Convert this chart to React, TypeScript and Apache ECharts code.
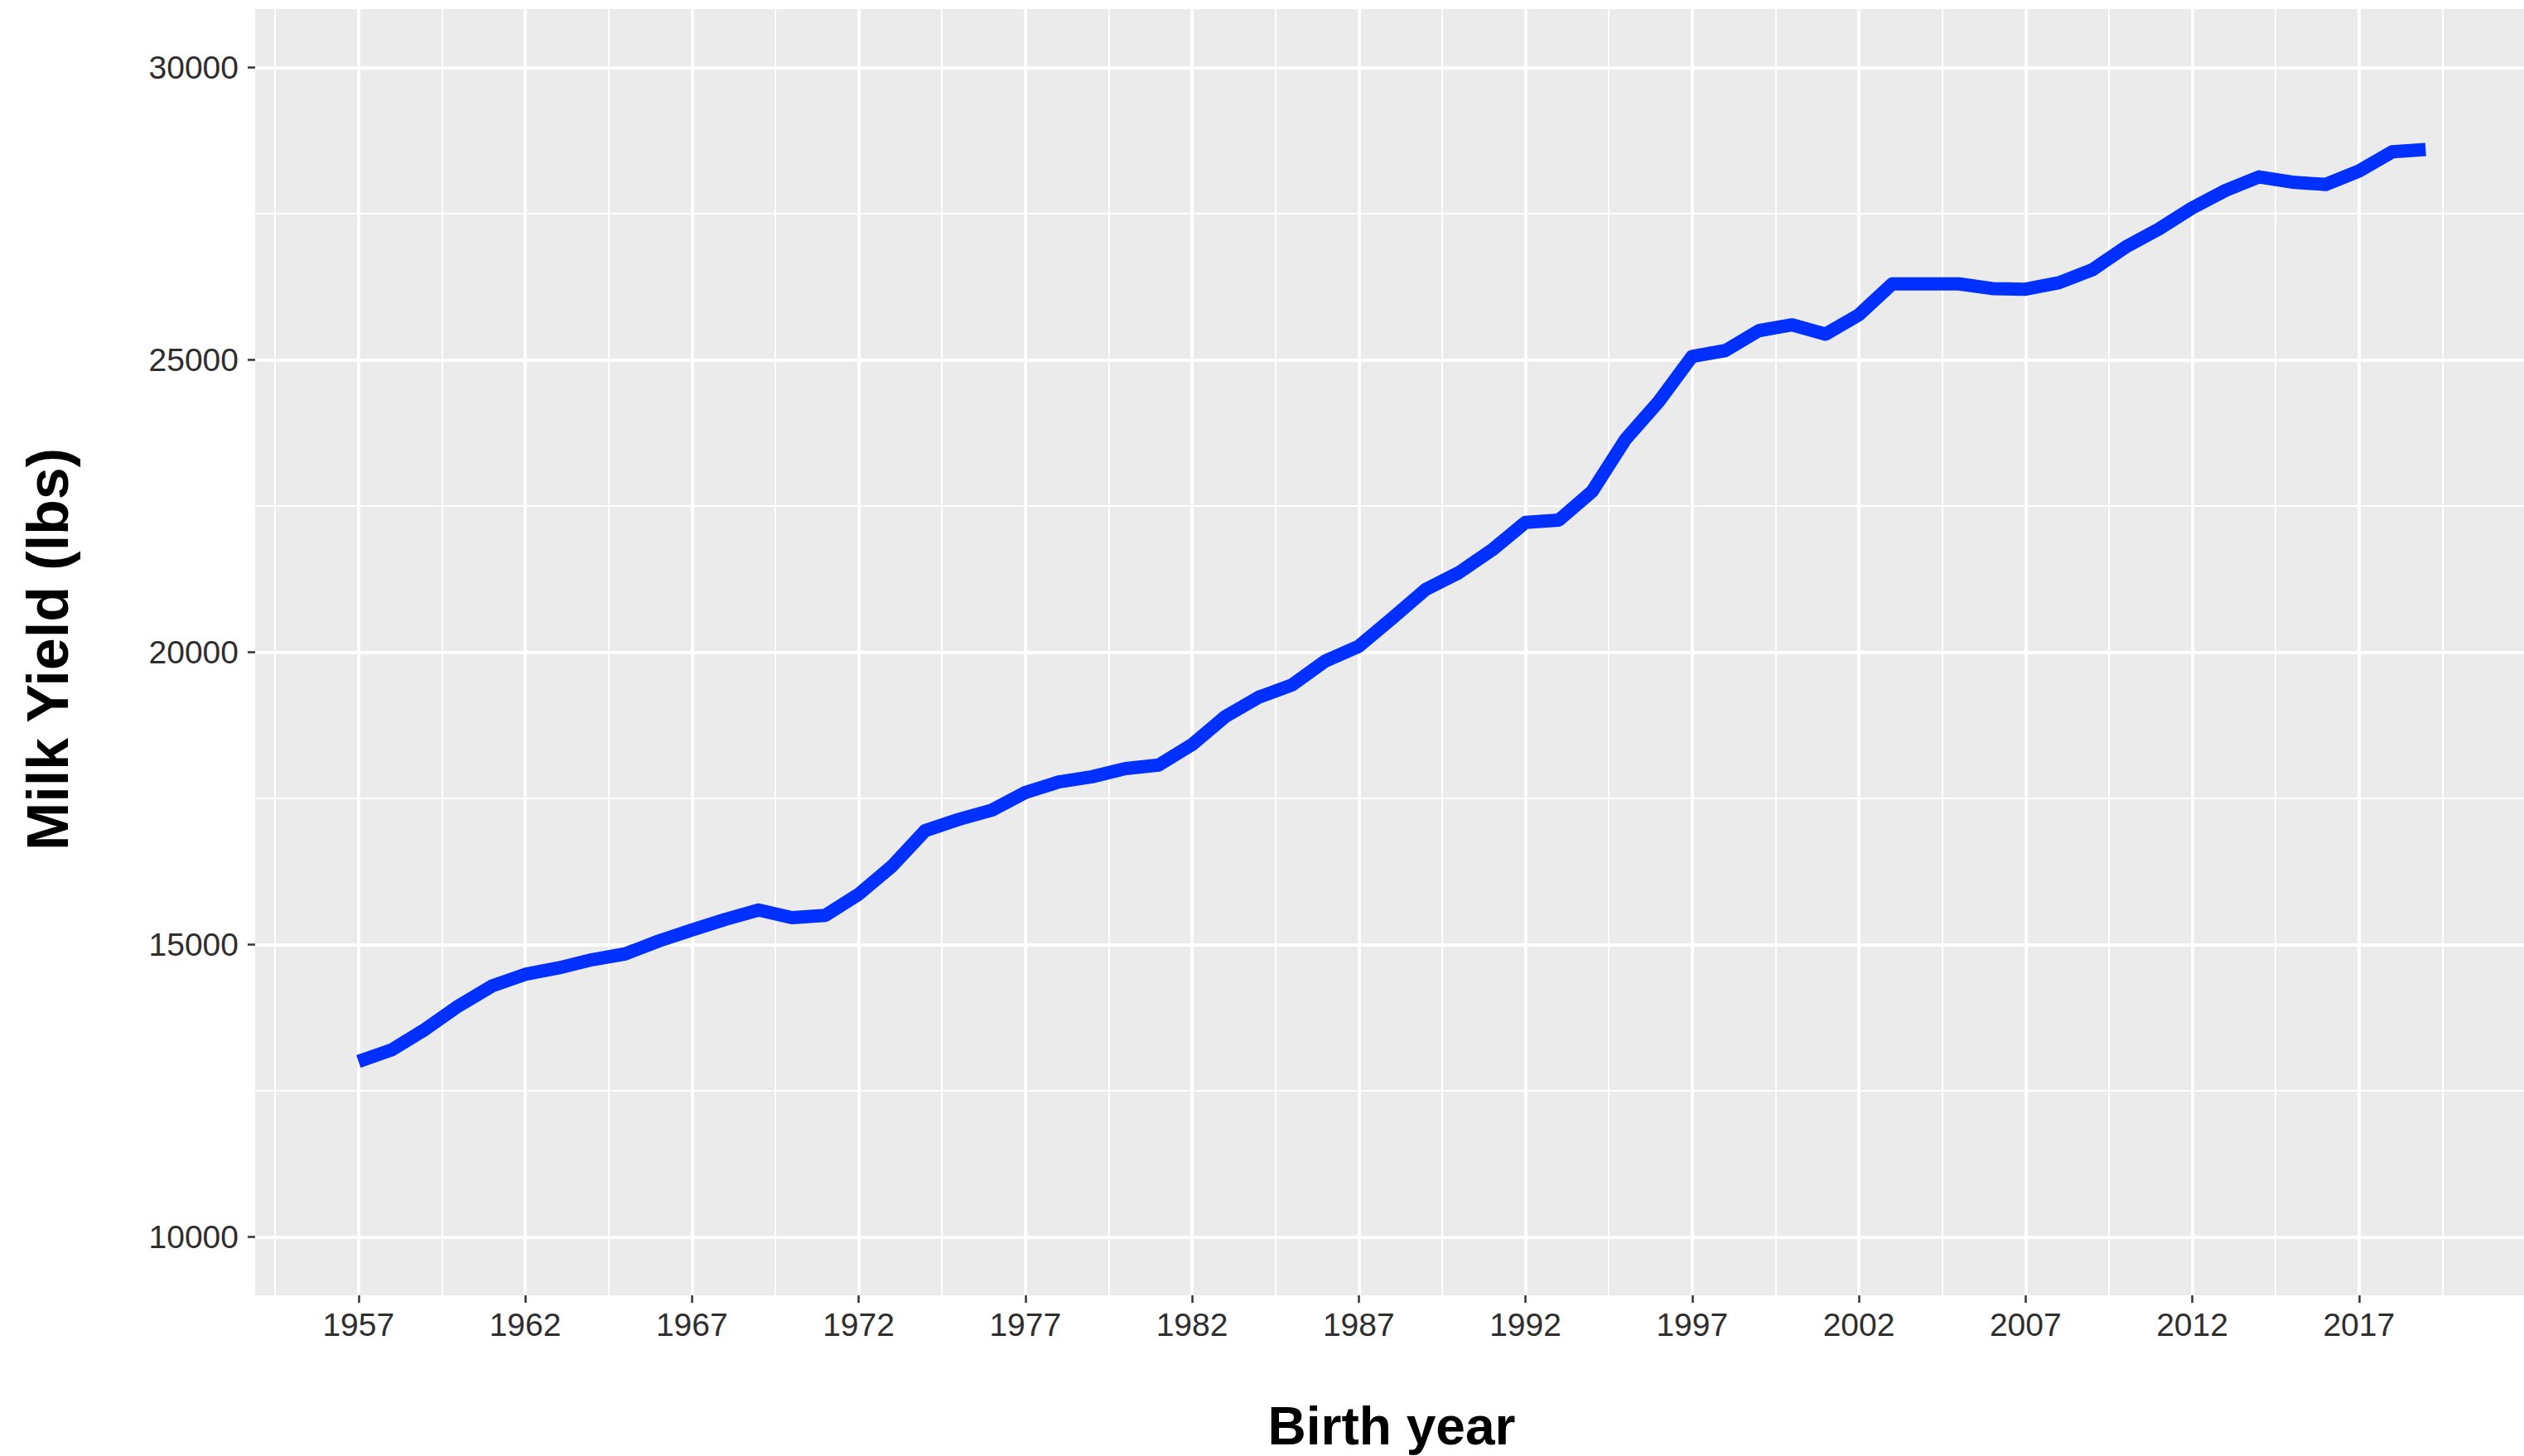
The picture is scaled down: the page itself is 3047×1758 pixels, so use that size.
import React, { useEffect, useRef } from "react";
import * as echarts from "echarts";

// ---- Data ----
const years = [
  1957, 1958, 1959, 1960, 1961, 1962, 1963, 1964, 1965, 1966,
  1967, 1968, 1969, 1970, 1971, 1972, 1973, 1974, 1975, 1976,
  1977, 1978, 1979, 1980, 1981, 1982, 1983, 1984, 1985, 1986,
  1987, 1988, 1989, 1990, 1991, 1992, 1993, 1994, 1995, 1996,
  1997, 1998, 1999, 2000, 2001, 2002, 2003, 2004, 2005, 2006,
  2007, 2008, 2009, 2010, 2011, 2012, 2013, 2014, 2015, 2016,
  2017, 2018, 2019,
];

const milkYield = [
  13000, 13200, 13550, 13950, 14290, 14490, 14600, 14740, 14840, 15060,
  15250, 15430, 15590, 15460, 15500, 15860, 16340, 16950, 17140, 17300,
  17600, 17780, 17870, 18010, 18070, 18420, 18900, 19230, 19440, 19850,
  20100, 20580, 21070, 21360, 21750, 22220, 22260, 22750, 23640, 24290,
  25060, 25160, 25500, 25600, 25440, 25770, 26300, 26300, 26300, 26220,
  26210, 26320, 26540, 26930, 27240, 27600, 27900, 28130, 28040, 28000,
  28230, 28560, 28600,
];

const xMajorTicks = [1957, 1962, 1967, 1972, 1977, 1982, 1987, 1992, 1997, 2002, 2007, 2012, 2017];
const xMinorTicks = [1954.5, 1959.5, 1964.5, 1969.5, 1974.5, 1979.5, 1984.5, 1989.5, 1994.5, 1999.5, 2004.5, 2009.5, 2014.5, 2019.5];
const yMajorTicks = [10000, 15000, 20000, 25000, 30000];
const yMinorTicks = [12500, 17500, 22500, 27500];

const xTitle = "Birth year";
const yTitle = "Milk Yield (lbs)";

const FONT = '"Liberation Sans", Arial, Helvetica, sans-serif';
const LINE_COLOR = "#0030FF";

export default function App() {
  const ref = useRef<HTMLDivElement | null>(null);

  useEffect(() => {
    if (!ref.current) return;
    const chart = echarts.init(ref.current, null, { renderer: "svg" });

    const option: any = {
      animation: false,
      backgroundColor: "#FFFFFF",
      grid: {
        left: 308,
        right: 0,
        top: 11,
        bottom: 194,
        show: true,
        backgroundColor: "#EBEBEB",
        borderWidth: 0,
      },
      xAxis: [
        {
          type: "value",
          min: 1953.9,
          max: 2021.95,
          position: "bottom",
          axisLine: { show: false },
          axisTick: {
            show: true,
            customValues: xMajorTicks,
            length: 9,
            lineStyle: { color: "#333333", width: 2.5 },
          },
          axisLabel: {
            show: true,
            customValues: xMajorTicks,
            fontSize: 39,
            fontFamily: FONT,
            color: "#2E2E2E",
            margin: 16,
            formatter: (v: number) => String(v),
          },
          splitLine: { show: true, lineStyle: { color: "#FFFFFF", width: 4 } },
        },
        {
          type: "value",
          min: 1953.9,
          max: 2021.95,
          position: "bottom",
          axisLine: { show: false },
          axisTick: { show: false, customValues: xMinorTicks },
          axisLabel: { show: false },
          splitLine: { show: true, lineStyle: { color: "#FFFFFF", width: 2 } },
        },
      ],
      yAxis: [
        {
          type: "value",
          min: 9000,
          max: 31000,
          position: "left",
          axisLine: { show: false },
          axisTick: {
            show: true,
            customValues: yMajorTicks,
            length: 9,
            lineStyle: { color: "#333333", width: 2.5 },
          },
          axisLabel: {
            show: true,
            customValues: yMajorTicks,
            fontSize: 39,
            fontFamily: FONT,
            color: "#2E2E2E",
            margin: 20,
            formatter: (v: number) => String(v),
          },
          splitLine: { show: true, lineStyle: { color: "#FFFFFF", width: 4 } },
        },
        {
          type: "value",
          min: 9000,
          max: 31000,
          position: "left",
          axisLine: { show: false },
          axisTick: { show: false, customValues: yMinorTicks },
          axisLabel: { show: false },
          splitLine: { show: true, lineStyle: { color: "#FFFFFF", width: 2 } },
        },
      ],
      series: [
        {
          type: "line",
          xAxisIndex: 0,
          yAxisIndex: 0,
          data: years.map((y, i) => [y, milkYield[i]]),
          symbol: "none",
          showSymbol: false,
          silent: true,
          z: 5,
          lineStyle: { color: LINE_COLOR, width: 16, cap: "butt", join: "round" },
          itemStyle: { color: LINE_COLOR },
        },
      ],
      graphic: [
        {
          type: "text",
          x: 1680,
          y: 1722,
          style: {
            text: xTitle,
            font: `bold 64px ${FONT}`,
            fill: "#000000",
            textAlign: "center",
            textVerticalAlign: "middle",
          },
        },
        {
          type: "text",
          x: 58,
          y: 784,
          rotation: Math.PI / 2,
          style: {
            text: yTitle,
            font: `bold 70px ${FONT}`,
            fill: "#000000",
            textAlign: "center",
            textVerticalAlign: "middle",
          },
        },
      ],
    };

    chart.setOption(option);
    return () => {
      chart.dispose();
    };
  }, []);

  return (
    <div
      ref={ref}
      style={{ position: "fixed", left: 0, top: 0, width: 3047, height: 1758, background: "#FFFFFF" }}
    />
  );
}
